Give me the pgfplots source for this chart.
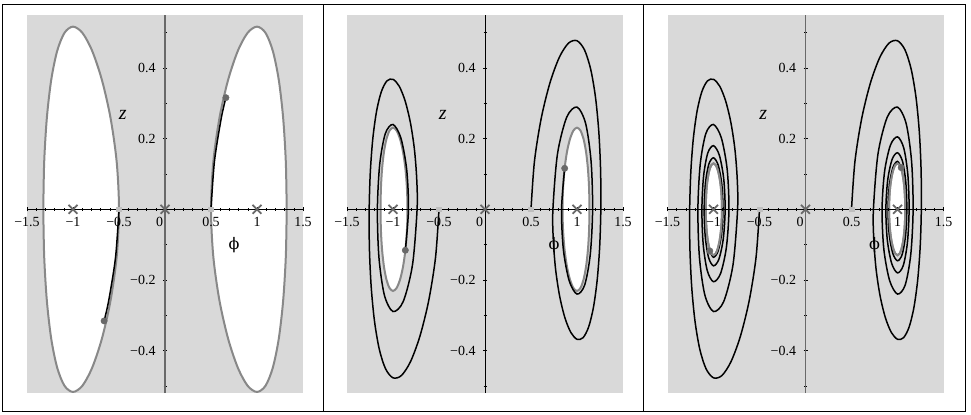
\documentclass[border=0pt]{standalone}
\usepackage{fontspec}
\setmainfont{Liberation Serif}
\newfontfamily\phifont{DejaVu Serif}
\usepackage{pgfplots}
\usepackage{pgfplotstable}
\pgfplotsset{compat=1.18}

\definecolor{bg}{RGB}{217,217,217}
\definecolor{curvegray}{RGB}{136,136,136}
\definecolor{markgray}{RGB}{105,105,105}
\definecolor{startgray}{RGB}{190,190,190}

% level curves (right lobe; left lobe mirrored)
\pgfplotstableread{
x y
1.3229 0
1.3132 0.1338
1.2843 0.2585
1.2371 0.3656
1.1726 0.4477
1.0928 0.4994
1 0.517
0.8977 0.4994
0.7906 0.4477
0.6853 0.3656
0.592 0.2585
0.525 0.1338
0.5 0
0.525 -0.1338
0.592 -0.2585
0.6853 -0.3656
0.7906 -0.4477
0.8977 -0.4994
1 -0.517
1.0928 -0.4994
1.1726 -0.4477
1.2371 -0.3656
1.2843 -0.2585
1.3132 -0.1338
1.3229 0
}\ellRone
\pgfplotstableread{
x y
-1.3229 0
-1.3132 0.1338
-1.2843 0.2585
-1.2371 0.3656
-1.1726 0.4477
-1.0928 0.4994
-1 0.517
-0.8977 0.4994
-0.7906 0.4477
-0.6853 0.3656
-0.592 0.2585
-0.525 0.1338
-0.5 0
-0.525 -0.1338
-0.592 -0.2585
-0.6853 -0.3656
-0.7906 -0.4477
-0.8977 -0.4994
-1 -0.517
-1.0928 -0.4994
-1.1726 -0.4477
-1.2371 -0.3656
-1.2843 -0.2585
-1.3132 -0.1338
-1.3229 0
}\ellLone
\pgfplotstableread{
x y
1.1358 0
1.1314 0.0598
1.1185 0.1155
1.0978 0.1633
1.0701 0.2
1.0369 0.2231
1 0.231
0.9617 0.2231
0.9247 0.2
0.8916 0.1633
0.8654 0.1155
0.8485 0.0598
0.8426 0
0.8485 -0.0598
0.8654 -0.1155
0.8916 -0.1633
0.9247 -0.2
0.9617 -0.2231
1 -0.231
1.0369 -0.2231
1.0701 -0.2
1.0978 -0.1633
1.1185 -0.1155
1.1314 -0.0598
1.1358 0
}\ellRtwo
\pgfplotstableread{
x y
-1.1358 0
-1.1314 0.0598
-1.1185 0.1155
-1.0978 0.1633
-1.0701 0.2
-1.0369 0.2231
-1 0.231
-0.9617 0.2231
-0.9247 0.2
-0.8916 0.1633
-0.8654 0.1155
-0.8485 0.0598
-0.8426 0
-0.8485 -0.0598
-0.8654 -0.1155
-0.8916 -0.1633
-0.9247 -0.2
-0.9617 -0.2231
-1 -0.231
-1.0369 -0.2231
-1.0701 -0.2
-1.0978 -0.1633
-1.1185 -0.1155
-1.1314 -0.0598
-1.1358 0
}\ellLtwo
\pgfplotstableread{
x y
1.084 0
1.0812 0.0336
1.0731 0.065
1.06 0.0919
1.0428 0.1126
1.0224 0.1256
1 0.13
0.9771 0.1256
0.9553 0.1126
0.9361 0.0919
0.9211 0.065
0.9116 0.0336
0.9083 0
0.9116 -0.0336
0.9211 -0.065
0.9361 -0.0919
0.9553 -0.1126
0.9771 -0.1256
1 -0.13
1.0224 -0.1256
1.0428 -0.1126
1.06 -0.0919
1.0731 -0.065
1.0812 -0.0336
1.084 0
}\ellRthree
\pgfplotstableread{
x y
-1.084 0
-1.0812 0.0336
-1.0731 0.065
-1.06 0.0919
-1.0428 0.1126
-1.0224 0.1256
-1 0.13
-0.9771 0.1256
-0.9553 0.1126
-0.9361 0.0919
-0.9211 0.065
-0.9116 0.0336
-0.9083 0
-0.9116 -0.0336
-0.9211 -0.065
-0.9361 -0.0919
-0.9553 -0.1126
-0.9771 -0.1256
-1 -0.13
-1.0224 -0.1256
-1.0428 -0.1126
-1.06 -0.0919
-1.0731 -0.065
-1.0812 -0.0336
-1.084 0
}\ellLthree

% trajectories
\pgfplotstableread{
x y
0.5 0
0.5376 0.136
0.6116 0.2581
0.662 0.316
}\trRone
\pgfplotstableread{
x y
-0.5 0
-0.5376 -0.136
-0.6116 -0.2581
-0.662 -0.316
}\trLone
\pgfplotstableread{
x y
0.5 0
0.5376 0.136
0.6116 0.2581
0.7062 0.3581
0.8077 0.4301
0.9075 0.4703
1 0.4771
1.0813 0.4513
1.149 0.3961
1.2013 0.3164
1.2372 0.2188
1.2564 0.1107
1.259 0
1.2465 -0.106
1.2192 -0.2006
1.1785 -0.2778
1.1266 -0.333
1.066 -0.3634
1 -0.3679
0.9324 -0.3484
0.8675 -0.3062
0.8106 -0.2449
0.7672 -0.1696
0.7422 -0.0859
0.7382 0
0.7877 0.1565
0.8884 0.2608
1 0.2893
1.0938 0.2429
1.153 0.1358
1.1696 0
1.1443 -0.1276
1.0832 -0.2145
1 -0.24
0.9147 -0.2021
0.8516 -0.1133
0.8319 0
0.866 0.116
}\trRtwo
\pgfplotstableread{
x y
-0.5 0
-0.5376 -0.136
-0.6116 -0.2581
-0.7062 -0.3581
-0.8077 -0.4301
-0.9075 -0.4703
-1 -0.4771
-1.0813 -0.4513
-1.149 -0.3961
-1.2013 -0.3164
-1.2372 -0.2188
-1.2564 -0.1107
-1.259 0
-1.2465 0.106
-1.2192 0.2006
-1.1785 0.2778
-1.1266 0.333
-1.066 0.3634
-1 0.3679
-0.9324 0.3484
-0.8675 0.3062
-0.8106 0.2449
-0.7672 0.1696
-0.7422 0.0859
-0.7382 0
-0.7877 -0.1565
-0.8884 -0.2608
-1 -0.2893
-1.0938 -0.2429
-1.153 -0.1358
-1.1696 0
-1.1443 0.1276
-1.0832 0.2145
-1 0.24
-0.9147 0.2021
-0.8516 0.1133
-0.8319 0
-0.866 -0.116
}\trLtwo
\pgfplotstableread{
x y
0.5 0
0.5376 0.136
0.6116 0.2581
0.7062 0.3581
0.8077 0.4301
0.9075 0.4703
1 0.4771
1.0813 0.4513
1.149 0.3961
1.2013 0.3164
1.2372 0.2188
1.2564 0.1107
1.259 0
1.2465 -0.106
1.2192 -0.2006
1.1785 -0.2778
1.1266 -0.333
1.066 -0.3634
1 -0.3679
0.9324 -0.3484
0.8675 -0.3062
0.8106 -0.2449
0.7672 -0.1696
0.7422 -0.0859
0.7382 0
0.7877 0.1565
0.8884 0.2608
1 0.2893
1.0938 0.2429
1.153 0.1358
1.1696 0
1.1443 -0.1276
1.0832 -0.2145
1 -0.24
0.9147 -0.2021
0.8516 -0.1133
0.8319 0
0.8598 0.1075
0.9236 0.1819
1 0.205
1.0679 0.1736
1.1124 0.098
1.1261 0
1.1079 -0.0938
1.0624 -0.1592
1 -0.18
0.9362 -0.1528
0.889 -0.0864
0.8735 0
0.8936 0.0831
0.9412 0.1412
1 0.16
1.0537 0.1363
1.0898 0.0774
1.1014 0
1.0871 -0.075
1.0505 -0.128
1 -0.1457
0.9483 -0.1245
0.9099 -0.071
0.8967 0
0.9121 0.0693
0.9508 0.1188
1 0.1357
1.04 0.118
}\trRthree
\pgfplotstableread{
x y
-0.5 0
-0.5376 -0.136
-0.6116 -0.2581
-0.7062 -0.3581
-0.8077 -0.4301
-0.9075 -0.4703
-1 -0.4771
-1.0813 -0.4513
-1.149 -0.3961
-1.2013 -0.3164
-1.2372 -0.2188
-1.2564 -0.1107
-1.259 0
-1.2465 0.106
-1.2192 0.2006
-1.1785 0.2778
-1.1266 0.333
-1.066 0.3634
-1 0.3679
-0.9324 0.3484
-0.8675 0.3062
-0.8106 0.2449
-0.7672 0.1696
-0.7422 0.0859
-0.7382 0
-0.7877 -0.1565
-0.8884 -0.2608
-1 -0.2893
-1.0938 -0.2429
-1.153 -0.1358
-1.1696 0
-1.1443 0.1276
-1.0832 0.2145
-1 0.24
-0.9147 0.2021
-0.8516 0.1133
-0.8319 0
-0.8598 -0.1075
-0.9236 -0.1819
-1 -0.205
-1.0679 -0.1736
-1.1124 -0.098
-1.1261 0
-1.1079 0.0938
-1.0624 0.1592
-1 0.18
-0.9362 0.1528
-0.889 0.0864
-0.8735 0
-0.8936 -0.0831
-0.9412 -0.1412
-1 -0.16
-1.0537 -0.1363
-1.0898 -0.0774
-1.1014 0
-1.0871 0.075
-1.0505 0.128
-1 0.1457
-0.9483 0.1245
-0.9099 0.071
-0.8967 0
-0.9121 -0.0693
-0.9508 -0.1188
-1 -0.1357
-1.04 -0.118
}\trLthree

\pgfplotsset{
  panel/.style={
    scale only axis, width=276bp, height=378bp,
    anchor=south west,
    xmin=-1.5, xmax=1.5, ymin=-0.52, ymax=0.55,
    axis lines=middle,
    axis line style={-, black, line width=0.8bp},
    axis background/.style={fill=bg},
    axis on top,
    hide obscured x ticks=false, hide obscured y ticks=false,
    xtick={-1.5,-1,-0.5,0,0.5,1,1.5},
    xticklabels={−1.5,−1,−0.5,\makebox[0pt][r]{0\kern2bp},0.5,1,1.5},
    ytick={-0.4,-0.2,0,0.2,0.4},
    yticklabels={−0.4,−0.2,,0.2,0.4},
    minor x tick num=4,
    minor ytick={-0.5,-0.3,-0.1,0.1,0.3,0.5},
    major tick length=4bp, minor tick length=3bp,
    tick style={black, line width=0.6bp},
    xticklabel style={font=\fontsize{14}{15}\selectfont, yshift=-2bp},
    yticklabel style={font=\fontsize{14}{15}\selectfont, xshift=-4bp},
  },
  lvl/.style={draw=curvegray, fill=white, line width=2bp, smooth},
  traj/.style={black, line width=1.5bp, smooth, no marks},
  cross/.style={only marks, mark=x, mark size=6.3bp, color=markgray, mark options={line width=1.8bp}},
  start/.style={only marks, mark=square*, mark size=2.4bp, color=startgray},
  dot/.style={only marks, mark=*, mark size=3.2bp, color=markgray},
}

\newcommand{\labels}{%
  \node[font=\fontsize{20}{20}\selectfont\itshape] at (axis cs:-0.46,0.268) {z};
  \node[font=\fontsize{16}{16}\selectfont\phifont] at (axis cs:0.75,-0.1) {ϕ};
}

\begin{document}
\begin{tikzpicture}
\path[use as bounding box] (0,0) rectangle (971bp,415bp);

% panel 1
\begin{axis}[panel, at={(27bp,22bp)},
  y axis line style={markgray, line width=1.8bp}]
  \addplot[lvl] table {\ellRone};
  \addplot[lvl] table {\ellLone};
  \addplot[start] coordinates {(-0.5,0) (0.5,0)};
  \addplot[traj] table {\trRone};
  \addplot[traj] table {\trLone};
  \addplot[cross] coordinates {(-1,0) (0,0) (1,0)};
  \addplot[dot] coordinates {(0.662,0.316) (-0.662,-0.316)};
  \labels
\end{axis}

% panel 2
\begin{axis}[panel, at={(347bp,22bp)}]
  \addplot[lvl] table {\ellRtwo};
  \addplot[lvl] table {\ellLtwo};
  \addplot[start] coordinates {(-0.5,0) (0.5,0)};
  \addplot[traj] table {\trRtwo};
  \addplot[traj] table {\trLtwo};
  \addplot[cross] coordinates {(-1,0) (0,0) (1,0)};
  \addplot[dot] coordinates {(0.866,0.116) (-0.866,-0.116)};
  \labels
\end{axis}

% panel 3
\begin{axis}[panel, at={(667.5bp,22bp)},
  y axis line style={markgray, line width=1.8bp}]
  \addplot[lvl] table {\ellRthree};
  \addplot[lvl] table {\ellLthree};
  \addplot[start] coordinates {(-0.5,0) (0.5,0)};
  \addplot[traj] table {\trRthree};
  \addplot[traj] table {\trLthree};
  \addplot[lvl, fill=none] table {\ellRthree};
  \addplot[lvl, fill=none] table {\ellLthree};
  \addplot[cross] coordinates {(-1,0) (0,0) (1,0)};
  \addplot[dot] coordinates {(1.04,0.118) (-1.04,-0.118)};
  \labels
\end{axis}

% frame
\draw[line width=0.8bp] (2bp,4bp) rectangle (965bp,411bp);
\draw[line width=0.8bp] (323bp,4bp) -- (323bp,411bp);
\draw[line width=0.8bp] (643.5bp,4bp) -- (643.5bp,411bp);
\end{tikzpicture}
\end{document}
